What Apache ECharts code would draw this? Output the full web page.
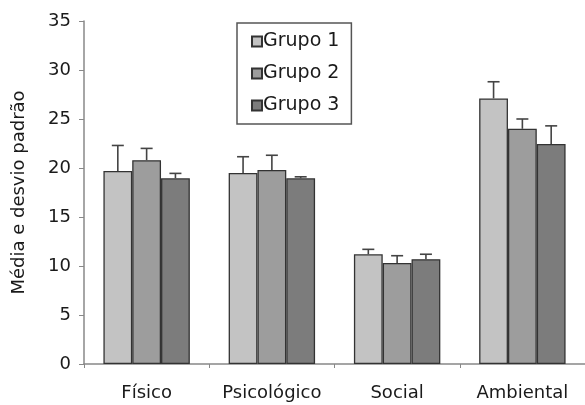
<!DOCTYPE html>
<html>
<head>
<meta charset="utf-8">
<script src="https://cdn.jsdelivr.net/npm/echarts@6/dist/echarts.min.js"></script>
<style>
  html, body { margin: 0; padding: 0; background: #fff; }
  #chart { width: 585px; height: 405px; }
</style>
</head>
<body>
<div id="chart"></div>
<script>
// Domains of quality of life, three groups: means and standard deviations
const categories = ['Físico', 'Psicológico', 'Social', 'Ambiental'];
const groupNames = ['Grupo 1', 'Grupo 2', 'Grupo 3'];
const mean1 = [19.7, 19.5, 11.2, 27.1];
const mean2 = [20.8, 19.8, 10.3, 24.0];
const mean3 = [18.95, 18.95, 10.7, 22.45];
const sd1 = [2.6, 1.65, 0.5, 1.7];
const sd2 = [1.2, 1.5, 0.75, 1.0];
const sd3 = [0.5, 0.15, 0.5, 1.85];
const yTicks = [0, 5, 10, 15, 20, 25, 30, 35];

const means = [mean1, mean2, mean3];
const sds = [sd1, sd2, sd3];
const fills = ['#c3c3c3', '#9d9d9d', '#7c7c7c'];
const FONT = 'DejaVu Sans';
const CAT_GAP = 0.31;

const chart = echarts.init(document.getElementById('chart'));

const barSeries = groupNames.map((name, i) => ({
  name: name,
  type: 'bar',
  data: means[i],
  barGap: '0%',
  barCategoryGap: (CAT_GAP * 100) + '%',
  itemStyle: { color: fills[i], borderColor: '#333', borderWidth: 1.3 },
  z: 2
}));

// Upper whiskers drawn on top of each bar
const errorSeries = groupNames.map((name, i) => ({
  type: 'custom',
  name: name + ' dp',
  z: 3,
  silent: true,
  data: categories.map((c, k) => [k, means[i][k], means[i][k] + sds[i][k]]),
  renderItem: function (params, api) {
    const k = api.value(0);
    const base = api.coord([k, api.value(1)]);
    const top = api.coord([k, api.value(2)]);
    const bw = api.size([1, 0])[0] * (1 - CAT_GAP) / 3;
    const x = base[0] + (i - 1) * bw;
    const cap = 6;
    const style = { stroke: '#444', lineWidth: 1.6 };
    return {
      type: 'group',
      children: [
        { type: 'line', shape: { x1: x, y1: base[1], x2: x, y2: top[1] }, style: style },
        { type: 'line', shape: { x1: x - cap, y1: top[1], x2: x + cap, y2: top[1] }, style: style }
      ]
    };
  }
}));

chart.setOption({
  animation: false,
  backgroundColor: '#ffffff',
  grid: { left: 84, top: 21, width: 509, height: 343, containLabel: false },
  legend: {
    data: groupNames,
    orient: 'vertical',
    left: 237,
    top: 23,
    icon: 'rect',
    itemWidth: 10,
    itemHeight: 10,
    itemGap: 13,
    padding: [9, 12, 9, 14],
    borderColor: '#555',
    borderWidth: 1.5,
    textStyle: { fontFamily: FONT, fontSize: 19, color: '#1a1a1a', padding: [0, 0, 0, -4] }
  },
  xAxis: {
    type: 'category',
    data: categories,
    axisLine: { lineStyle: { color: '#888', width: 1.5 } },
    axisTick: { show: true, alignWithLabel: false, length: 4, lineStyle: { color: '#888' } },
    axisLabel: { interval: 0, fontFamily: FONT, fontSize: 18, color: '#1a1a1a', margin: 20 }
  },
  yAxis: {
    type: 'value',
    min: yTicks[0],
    max: yTicks[yTicks.length - 1],
    interval: 5,
    name: 'Média e desvio padrão',
    nameLocation: 'middle',
    nameGap: 56,
    nameTextStyle: { fontFamily: FONT, fontSize: 18, color: '#1a1a1a' },
    axisLine: { show: true, lineStyle: { color: '#888', width: 1.5 } },
    axisTick: { show: true, length: 5, lineStyle: { color: '#888' } },
    splitLine: { show: false },
    axisLabel: { fontFamily: FONT, fontSize: 18, color: '#1a1a1a', margin: 13 }
  },
  series: barSeries.concat(errorSeries)
});
</script>
</body>
</html>
